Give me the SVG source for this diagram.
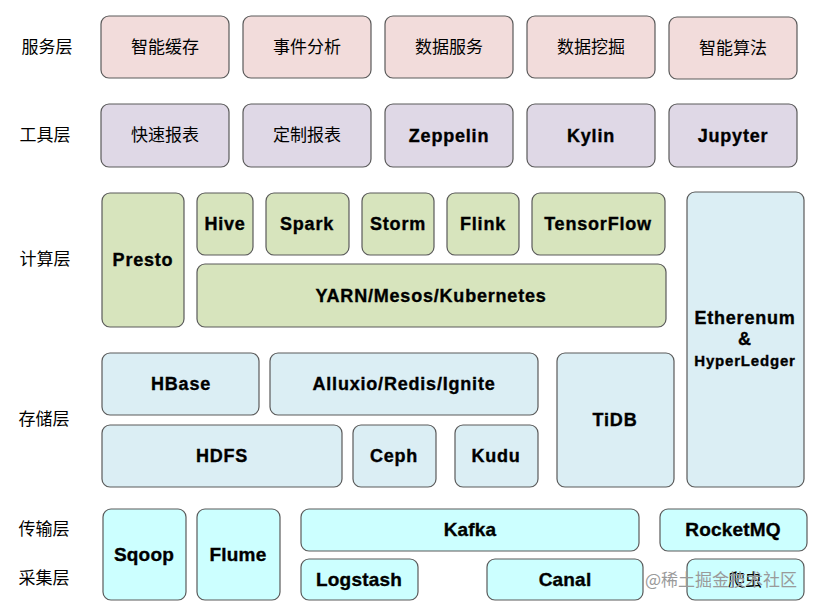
<svg xmlns="http://www.w3.org/2000/svg" width="818" height="610" viewBox="0 0 818 610">
<style>
rect.b{stroke:#5a5a5a;stroke-width:1.2}
.svc{fill:#f2dcdb}
.tool{fill:#dfd8e6}
.cmp{fill:#d7e4bd}
.sto{fill:#dbeef4}
.trn{fill:#ccffff}
text{text-anchor:middle;fill:#000}
.lbl{font-family:"Liberation Serif","Noto Sans CJK SC",serif;font-size:17px}
.cn{font-family:"Liberation Serif","Noto Sans CJK SC",serif;font-size:17px}
.en{font-family:"Liberation Sans",Arial,sans-serif;font-weight:bold;font-size:18px;letter-spacing:0.8px;stroke:#000;stroke-width:0.35}
.en2{font-family:"Liberation Sans",Arial,sans-serif;font-weight:bold;font-size:19px;letter-spacing:0.2px;stroke:#000;stroke-width:0.35}
.wm{font-family:"Noto Sans CJK SC",sans-serif;font-size:17px;fill:#9a9a9a;text-anchor:start}
</style>
<rect width="818" height="610" fill="#ffffff"/>
<g id="labels">
<text class="lbl" x="47" y="53">服务层</text>
<text class="lbl" x="45" y="141">工具层</text>
<text class="lbl" x="45" y="265">计算层</text>
<text class="lbl" x="44" y="425">存储层</text>
<text class="lbl" x="44" y="535">传输层</text>
<text class="lbl" x="44" y="584">采集层</text>
</g>
<g id="service">
<g id="n-cache"><rect class="b svc" x="101" y="16" width="128" height="62" rx="8"/><text class="cn" x="165" y="53">智能缓存</text></g>
<g id="n-event"><rect class="b svc" x="243" y="16" width="128" height="62" rx="8"/><text class="cn" x="307" y="53">事件分析</text></g>
<g id="n-dataservice"><rect class="b svc" x="385" y="16" width="128" height="62" rx="8"/><text class="cn" x="449" y="53">数据服务</text></g>
<g id="n-mining"><rect class="b svc" x="527" y="16" width="128" height="62" rx="8"/><text class="cn" x="591" y="53">数据挖掘</text></g>
<g id="n-algo"><rect class="b svc" x="669" y="17" width="128" height="62" rx="8"/><text class="cn" x="733" y="54">智能算法</text></g>
</g>
<g id="tools">
<g id="n-quickreport"><rect class="b tool" x="101" y="104" width="128" height="63" rx="8"/><text class="cn" x="165" y="141">快速报表</text></g>
<g id="n-customreport"><rect class="b tool" x="243" y="104" width="128" height="63" rx="8"/><text class="cn" x="307" y="141">定制报表</text></g>
<g id="n-zeppelin"><rect class="b tool" x="385" y="104" width="128" height="63" rx="8"/><text class="en" x="449" y="142">Zeppelin</text></g>
<g id="n-kylin"><rect class="b tool" x="527" y="104" width="128" height="63" rx="8"/><text class="en" x="591" y="142">Kylin</text></g>
<g id="n-jupyter"><rect class="b tool" x="669" y="104" width="128" height="63" rx="8"/><text class="en" x="733" y="142">Jupyter</text></g>
</g>
<g id="compute">
<g id="n-presto"><rect class="b cmp" x="102" y="193" width="82" height="134" rx="8"/><text class="en" x="143" y="266">Presto</text></g>
<g id="n-hive"><rect class="b cmp" x="197" y="193" width="56" height="62" rx="8"/><text class="en" x="225" y="230">Hive</text></g>
<g id="n-spark"><rect class="b cmp" x="266" y="193" width="83" height="62" rx="8"/><text class="en" x="307" y="230">Spark</text></g>
<g id="n-storm"><rect class="b cmp" x="362" y="193" width="72" height="62" rx="8"/><text class="en" x="398" y="230">Storm</text></g>
<g id="n-flink"><rect class="b cmp" x="447" y="193" width="72" height="62" rx="8"/><text class="en" x="483" y="230">Flink</text></g>
<g id="n-tensorflow"><rect class="b cmp" x="532" y="193" width="133" height="62" rx="8"/><text class="en" x="598" y="230">TensorFlow</text></g>
<g id="n-yarn"><rect class="b cmp" x="197" y="264" width="469" height="63" rx="8"/><text class="en" x="431" y="302">YARN/Mesos/Kubernetes</text></g>
</g>
<g id="blockchain">
<g id="n-eth"><rect class="b sto" x="687" y="192" width="117" height="295" rx="8"/>
<text class="en" x="745" y="324">Etherenum</text>
<text class="en" x="745" y="345">&amp;</text>
<text class="en" x="745" y="366" style="font-size:15px">HyperLedger</text></g>
</g>
<g id="storage">
<g id="n-hbase"><rect class="b sto" x="102" y="353" width="157" height="62" rx="8"/><text class="en" x="181" y="390">HBase</text></g>
<g id="n-alluxio"><rect class="b sto" x="270" y="353" width="268" height="62" rx="8"/><text class="en" x="404" y="390">Alluxio/Redis/Ignite</text></g>
<g id="n-hdfs"><rect class="b sto" x="102" y="425" width="240" height="62" rx="8"/><text class="en" x="222" y="462">HDFS</text></g>
<g id="n-ceph"><rect class="b sto" x="353" y="425" width="83" height="62" rx="8"/><text class="en" x="394" y="462">Ceph</text></g>
<g id="n-kudu"><rect class="b sto" x="455" y="425" width="83" height="62" rx="8"/><text class="en" x="496" y="462">Kudu</text></g>
<g id="n-tidb"><rect class="b sto" x="557" y="353" width="117" height="134" rx="8"/><text class="en" x="615" y="426">TiDB</text></g>
</g>
<g id="transport">
<g id="n-sqoop"><rect class="b trn" x="103" y="509" width="83" height="91" rx="8"/><text class="en2" x="144" y="561">Sqoop</text></g>
<g id="n-flume"><rect class="b trn" x="197" y="509" width="83" height="91" rx="8"/><text class="en2" x="238" y="561">Flume</text></g>
<g id="n-kafka"><rect class="b trn" x="301" y="509" width="338" height="42" rx="8"/><text class="en2" x="470" y="536">Kafka</text></g>
<g id="n-rocketmq"><rect class="b trn" x="660" y="509" width="147" height="42" rx="8"/><text class="en2" x="733" y="536">RocketMQ</text></g>
<g id="n-logstash"><rect class="b trn" x="301" y="559" width="117" height="41" rx="8"/><text class="en2" x="359" y="586">Logstash</text></g>
<g id="n-canal"><rect class="b trn" x="487" y="559" width="156" height="41" rx="8"/><text class="en2" x="565" y="586">Canal</text></g>
<g id="n-crawler"><rect class="b trn" x="687" y="559" width="117" height="41" rx="8"/><text class="cn" x="745" y="586">爬虫</text></g>
</g>
<g id="connectors"></g>
<text class="wm" x="645" y="586">@稀土掘金技术社区</text>
</svg>
